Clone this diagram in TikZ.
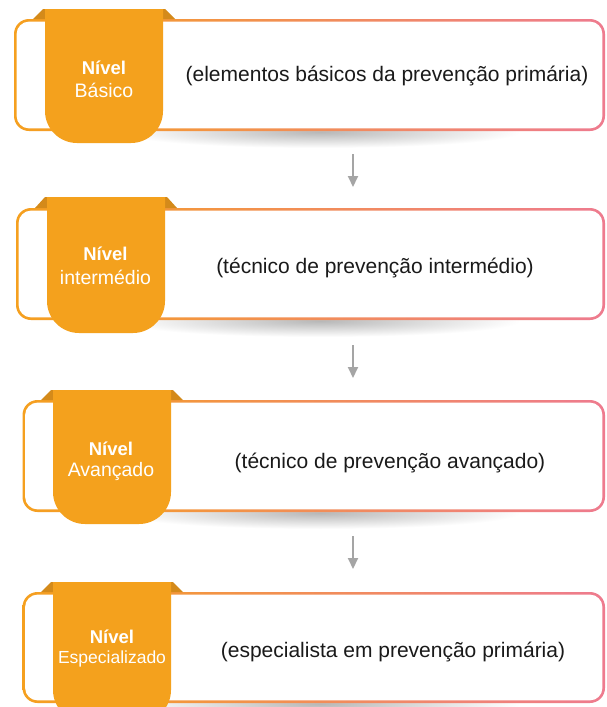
\documentclass[tikz,border=0pt]{standalone}
\usepackage{fontspec}
\setmainfont{Liberation Sans}
\usetikzlibrary{arrows.meta}
\definecolor{tabor}{HTML}{F4A11D}
\definecolor{foldor}{HTML}{D48A1A}
\definecolor{bor}{HTML}{F5A01F}
\definecolor{bmid}{HTML}{F28C52}
\definecolor{bpink}{HTML}{EE7B8F}
\definecolor{arrgray}{HTML}{A5A5A5}
\definecolor{txt}{HTML}{1A1A1A}
\newcommand{\lvlbox}[6]{%
  % #1 L, #2 T, #3 B, #4 tab left, #5 tab top, #6 tab bottom
  \shade[inner color=black!28, outer color=white] (320,#3+1) ellipse [x radius=200, y radius=16];
  \shade[left color=bor, middle color=bmid, right color=bpink, rounded corners=15pt] (#1,#2) rectangle (605,#3);
  \fill[white, rounded corners=12.5pt] (#1+2.6,#2+2.6) rectangle (605-2.6,#3-2.6);
  \fill[foldor] (#4-12,#2) -- (#4-2,#5) -- (#4,#5) -- (#4,#2) -- cycle;
  \fill[foldor] (#4+130,#2) -- (#4+120,#5) -- (#4+118,#5) -- (#4+118,#2) -- cycle;
  \begin{scope}
    \clip (#4-1,#5) rectangle (#4+119,#6+1);
    \fill[tabor, rounded corners=32pt] (#4,#5-40) rectangle (#4+118,#6);
  \end{scope}
}
\begin{document}
\begin{tikzpicture}[x=1pt,y=-1pt,
  tabtitle/.style={text=white, font=\fontsize{18.5}{20}\selectfont\bfseries, inner sep=0pt},
  tabsub/.style={text=white, font=\fontsize{19.5}{21}\selectfont, inner sep=0pt},
  desc/.style={text=txt, font=\fontsize{21}{23}\selectfont, inner sep=0pt},
  flowarrow/.style={draw=arrgray, line width=2pt, -{Triangle[width=10pt,length=11pt]}}]
\useasboundingbox (0,0) rectangle (606,707);
\fill[white] (0,0) rectangle (606,707);

\lvlbox{14}{19}{131}{45}{9}{143}
\lvlbox{16}{208}{320}{47}{197}{333}
\lvlbox{22.5}{400}{512}{53}{390}{524}
\lvlbox{22.5}{592}{703}{53}{582}{722}

\node[tabtitle] (n1) at (104,68) {Nível};
\node[tabsub] (s1) at (104,90) {Básico};
\node[desc] (d1) at (387,76) {(elementos básicos da prevenção primária)};

\node[tabtitle] (n2) at (105.5,254) {Nível};
\node[tabsub] (s2) at (105.5,277) {intermédio};
\node[desc] (d2) at (375,268) {(técnico de prevenção intermédio)};

\node[tabtitle] (n3) at (111,449) {Nível};
\node[tabsub] (s3) at (111,471) {Avançado};
\node[desc] (d3) at (390,463) {(técnico de prevenção avançado)};

\node[tabtitle] (n4) at (112,637) {Nível};
\node[tabsub, font=\fontsize{17.5}{19}\selectfont] (s4) at (112,659) {Especializado};
\node[desc] (d4) at (393,652) {(especialista em prevenção primária)};

\coordinate (a1s) at (353,154); \coordinate (a1e) at (353,187);
\coordinate (a2s) at (353,345); \coordinate (a2e) at (353,378);
\coordinate (a3s) at (353,536); \coordinate (a3e) at (353,569);
\draw[flowarrow] (a1s) -- (a1e);
\draw[flowarrow] (a2s) -- (a2e);
\draw[flowarrow] (a3s) -- (a3e);
\end{tikzpicture}
\end{document}
